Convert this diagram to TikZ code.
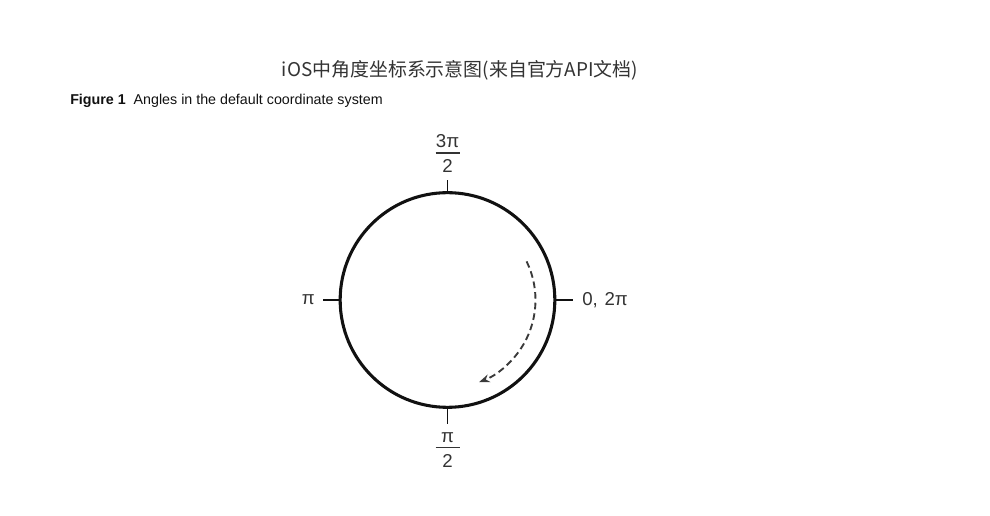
\documentclass[tikz,border=0pt]{standalone}
\usepackage{fontspec}
\setmainfont{Liberation Sans}
\newfontfamily\cjk{Noto Sans CJK SC}
\usetikzlibrary{arrows.meta,calc,positioning}
\definecolor{AngInk}{HTML}{111111}
\definecolor{AngGray}{HTML}{333333}
\definecolor{AngDash}{HTML}{3A3A3A}
% fraction label with a fixed-width bar
\newcommand{\angfrac}[2]{\vbox{\hbox to 18pt{\hss#1\hss}\kern3.5pt
  \hrule height 1pt\kern4.5pt\hbox to 18pt{\hss#2\hss}}}

\begin{document}
\begin{tikzpicture}[x=0.75pt,y=-0.75pt,
    tick/.style={AngInk,line width=1pt},
    anglabel/.style={font=\fontsize{14}{16}\selectfont,text=AngGray,inner sep=0pt}]
  \useasboundingbox (0,0) rectangle (990,516);
  \node[font=\cjk\fontsize{14.2}{17}\selectfont,text=AngGray] (title) at (460,70)
    {iOS中角度坐标系示意图(来自官方API文档)};
  \node[anchor=west,font=\fontsize{10.7}{12}\selectfont,text=AngInk,inner sep=0pt]
    (caption) at (70,101) {\textbf{Figure 1}\ \ Angles in the default coordinate system};
  \node[circle,draw=AngInk,line width=2.3pt,minimum size=161pt,inner sep=0pt,
    outer sep=0pt] (dial) at (447.5,300) {};
  % tick ends
  \coordinate (topend) at (447.5,180);
  \coordinate (botend) at (447.5,424);
  \coordinate (leftend) at (323,300);
  \coordinate (rightend) at (573,300);
  \draw[tick] (dial.north) -- (topend);
  \draw[tick] (dial.south) -- (botend);
  \draw[tick] (dial.west) -- (leftend);
  \draw[tick] (dial.east) -- (rightend);
  \node[anglabel,anchor=south] (lthree) at ($(topend)+(0,-7)$) {\angfrac{3π}{2}};
  \node[anglabel,anchor=north] (lhalf) at ($(botend)+(0,8)$) {\angfrac{π}{2}};
  \node[anglabel,anchor=east] (lpi) at ($(leftend)+(-8,0)$) {π};
  \node[anglabel,anchor=west] (lzero) at ($(rightend)+(9,0)$) {0,\hspace{5pt}2π};
  % direction of increasing angle
  \coordinate (sweep) at ([shift={(26:66pt)}]dial.center);
  \draw[AngDash,line width=1.4pt,dash pattern=on 5pt off 3pt,-{Stealth[length=8pt,width=6pt]}]
    (sweep) arc[start angle=26,end angle=-69,radius=66pt];
\end{tikzpicture}
\end{document}
